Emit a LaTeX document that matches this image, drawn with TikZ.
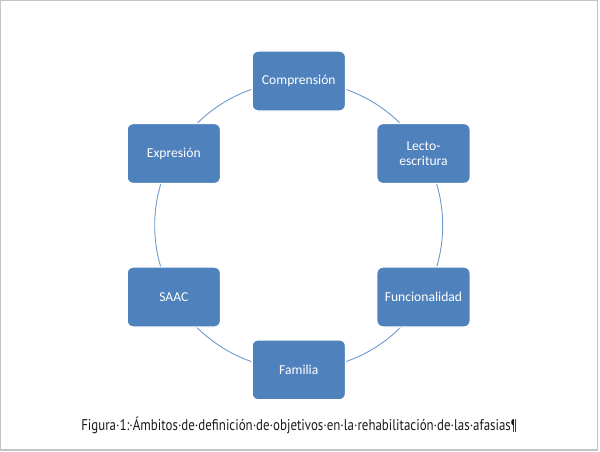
\documentclass[tikz,border=0pt]{standalone}
\usepackage{fontspec}
\setmainfont{Carlito}
\newfontfamily\capfont{PT Sans}
\definecolor{boxblue}{HTML}{4F81BD}
\definecolor{ringblue}{HTML}{6E98CE}
\definecolor{framegray}{HTML}{C4C4C4}
\definecolor{captext}{HTML}{1A1A1A}
\begin{document}
\begin{tikzpicture}[x=1pt,y=-1pt,
  stagebox/.style={rectangle, rounded corners=6pt, fill=boxblue, draw=white, line width=1.4pt,
    minimum width=93.5pt, minimum height=60pt, inner sep=2pt, align=center,
    text=white, font=\fontsize{13.6}{15.5}\selectfont},
  ring/.style={draw=ringblue, line width=0.9pt},
  frame/.style={draw=framegray, line width=1.4pt}]
\useasboundingbox (0,0) rectangle (600,451);
\draw[frame] (0.7,0.7) rectangle (597.7,449.8);
\coordinate (o) at (298.7,225.5);
\draw[ring] (o) circle (144);
\node[stagebox] (comp) at (298.8,81) {Comprensión};
\node[stagebox] (lecto) at (423.5,153.5) {Lecto-\\escritura};
\node[stagebox] (func) at (423.5,297) {Funcionalidad};
\node[stagebox] (fam) at (298.8,369.8) {Familia};
\node[stagebox] (saac) at (173.8,297) {SAAC};
\node[stagebox] (expr) at (173.8,153.5) {Expresión};
\node[text=captext, inner sep=0pt, anchor=base] (cap) at (299.3,430.7)
  {\resizebox{436pt}{13.5pt}{\capfont\fontsize{13}{15}\selectfont Figura·1:·Ámbitos·de·definición·de·objetivos·en·la·rehabilitación·de·las·afasias¶}};
\end{tikzpicture}
\end{document}
